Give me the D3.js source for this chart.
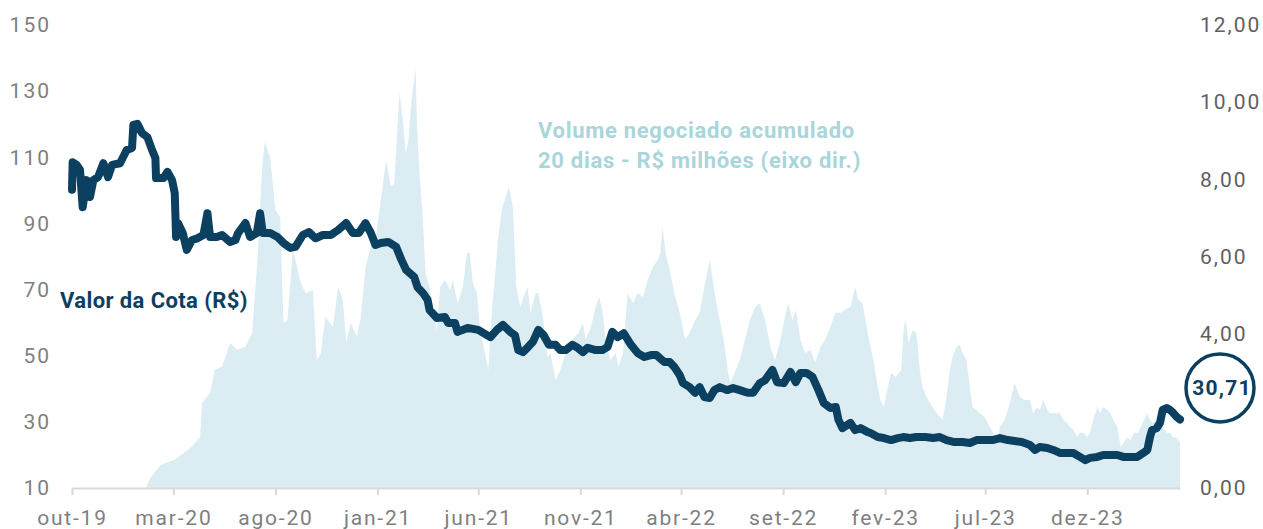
<!DOCTYPE html>
<html>
<head>
<meta charset="utf-8">
<script src="https://cdn.jsdelivr.net/npm/d3@7"></script>
<style>
  body { margin: 0; background: #fff; }
  text { font-family: Roboto, "Open Sans", sans-serif; }
</style>
</head>
<body>
<script>
// valor da cota x volume negociado (20 dias)

var tickDates = ["2019-10-01","2020-03-01","2020-08-01","2021-01-01","2021-06-01","2021-11-01","2022-04-01","2022-09-01","2023-02-01","2023-07-01","2023-12-01"];
var tickLabels = ["out-19","mar-20","ago-20","jan-21","jun-21","nov-21","abr-22","set-22","fev-23","jul-23","dez-23"];
var leftTicks = [10, 30, 50, 70, 90, 110, 130, 150];
var rightTicks = [0, 4, 6, 8, 10, 12];   // 2,00 fica escondido atras do selo

var priceDates = ["2019-10-01","2019-10-02","2019-10-08","2019-10-13","2019-10-17","2019-10-23","2019-10-28","2019-11-02","2019-11-09","2019-11-17",
  "2019-11-24","2019-11-30","2019-12-12","2019-12-22","2019-12-30","2020-01-01","2020-01-07","2020-01-14","2020-01-22","2020-01-29",
  "2020-02-03","2020-02-04","2020-02-15","2020-02-21","2020-02-28","2020-03-03","2020-03-05","2020-03-08","2020-03-15","2020-03-21",
  "2020-03-29","2020-04-06","2020-04-15","2020-04-21","2020-04-25","2020-05-05","2020-05-13","2020-05-25","2020-06-02","2020-06-06",
  "2020-06-17","2020-06-24","2020-07-04","2020-07-09","2020-07-13","2020-07-24","2020-08-04","2020-08-13","2020-08-23","2020-08-31",
  "2020-09-11","2020-09-20","2020-09-30","2020-10-11","2020-10-23","2020-11-03","2020-11-15","2020-11-25","2020-12-04","2020-12-14",
  "2020-12-22","2020-12-29","2021-01-06","2021-01-17","2021-01-29","2021-02-06","2021-02-13","2021-02-25","2021-03-02","2021-03-10",
  "2021-03-17","2021-03-20","2021-03-31","2021-04-12","2021-04-17","2021-04-27","2021-05-01","2021-05-16","2021-06-01","2021-06-19",
  "2021-06-29","2021-07-08","2021-07-19","2021-07-26","2021-07-31","2021-08-07","2021-08-15","2021-08-22","2021-08-30","2021-09-07",
  "2021-09-15","2021-09-25","2021-10-02","2021-10-10","2021-10-20","2021-10-28","2021-11-05","2021-11-12","2021-11-24","2021-12-04",
  "2021-12-12","2021-12-19","2021-12-27","2022-01-05","2022-01-16","2022-01-26","2022-02-05","2022-02-15","2022-02-23","2022-02-28",
  "2022-03-07","2022-03-15","2022-03-22","2022-03-30","2022-04-04","2022-04-14","2022-04-22","2022-04-29","2022-05-06","2022-05-14",
  "2022-05-21","2022-05-29","2022-06-09","2022-06-18","2022-06-28","2022-07-10","2022-07-18","2022-07-28","2022-08-05","2022-08-16",
  "2022-08-23","2022-09-02","2022-09-12","2022-09-20","2022-09-27","2022-10-06","2022-10-15","2022-10-24","2022-11-01","2022-11-11",
  "2022-11-19","2022-11-23","2022-11-29","2022-12-11","2022-12-18","2022-12-26","2023-01-06","2023-01-10","2023-01-21","2023-01-30",
  "2023-02-10","2023-02-20","2023-02-28","2023-03-10","2023-03-20","2023-04-02","2023-04-14","2023-04-24","2023-05-04","2023-05-16",
  "2023-05-28","2023-06-08","2023-06-18","2023-06-30","2023-07-12","2023-07-23","2023-08-04","2023-08-14","2023-08-25","2023-09-06",
  "2023-09-14","2023-09-21","2023-10-02","2023-10-11","2023-10-21","2023-11-01","2023-11-10","2023-11-20","2023-11-28","2023-12-05",
  "2023-12-16","2023-12-25","2024-01-05","2024-01-15","2024-01-24","2024-02-04","2024-02-14","2024-02-23","2024-02-29","2024-03-04",
  "2024-03-07","2024-03-14","2024-03-19","2024-03-23","2024-03-29","2024-04-03","2024-04-07","2024-04-13","2024-04-18"];
var priceValues = [100.2,108.5,107.7,106.2,94.9,103.1,98.0,103.1,104.0,108.2,
  104.0,107.7,108.2,112.2,112.8,119.8,120.1,117.3,116.1,112.2,
  109.8,103.7,103.7,105.6,103.1,99.2,85.9,90.1,87.1,82.0,
  85.0,85.5,86.5,93.1,85.9,85.9,86.5,84.4,85.0,87.1,
  90.1,85.9,87.1,93.1,87.1,87.1,85.9,84.1,82.6,82.9,
  86.5,87.4,85.5,86.5,86.5,88.0,90.1,87.1,87.1,90.1,
  87.1,83.5,84.1,84.4,82.9,78.9,75.9,73.8,70.7,69.0,
  66.9,63.8,61.4,61.7,59.9,59.9,57.2,58.4,57.8,55.6,
  57.8,59.3,57.2,56.2,51.7,51.1,52.7,54.2,57.8,56.2,
  53.3,53.3,51.7,51.7,53.3,52.4,51.1,52.4,51.7,51.7,
  52.7,57.2,55.6,56.8,53.3,50.8,49.6,50.2,50.2,49.3,
  48.1,48.1,46.6,44.2,41.7,40.5,38.8,40.5,37.5,37.2,
  39.6,40.5,39.6,40.2,39.6,38.8,38.8,41.7,42.6,45.7,
  42.0,41.7,45.1,42.0,44.8,44.8,43.6,39.6,35.7,34.2,
  34.5,30.6,28.1,29.7,27.5,28.1,26.9,26.6,25.4,25.1,
  24.5,25.1,25.4,25.1,25.4,25.4,25.1,25.4,24.5,23.9,
  23.9,23.6,24.5,24.5,24.5,25.1,24.5,24.2,23.9,23.0,
  21.5,22.4,22.1,21.5,20.6,20.6,20.6,19.4,18.4,19.1,
  19.4,20.0,20.0,20.0,19.4,19.4,19.4,20.6,21.5,25.4,
  27.5,28.1,29.7,33.6,34.2,33.6,32.9,31.5,30.71];

var volumeDates = ["2019-10-01","2020-01-20","2020-01-26","2020-02-11","2020-03-03","2020-03-26","2020-04-10","2020-04-13","2020-04-25","2020-05-02",
  "2020-05-13","2020-05-25","2020-06-05","2020-06-17","2020-06-27","2020-07-05","2020-07-12","2020-07-16","2020-07-24","2020-08-01",
  "2020-08-08","2020-08-13","2020-08-19","2020-08-27","2020-08-31","2020-09-08","2020-09-15","2020-09-26","2020-10-02","2020-10-08",
  "2020-10-15","2020-10-26","2020-11-03","2020-11-10","2020-11-15","2020-11-22","2020-12-01","2020-12-07","2020-12-14","2020-12-22",
  "2020-12-29","2021-01-06","2021-01-14","2021-01-21","2021-01-26","2021-02-03","2021-02-09","2021-02-12","2021-02-16","2021-02-21",
  "2021-02-27","2021-03-01","2021-03-04","2021-03-10","2021-03-14","2021-03-20","2021-03-25","2021-03-31","2021-04-05","2021-04-12",
  "2021-04-20","2021-04-24","2021-05-01","2021-05-09","2021-05-15","2021-05-19","2021-05-24","2021-05-30","2021-06-04","2021-06-11",
  "2021-06-16","2021-06-22","2021-06-26","2021-07-01","2021-07-07","2021-07-11","2021-07-17","2021-07-23","2021-07-28","2021-08-03",
  "2021-08-08","2021-08-14","2021-08-18","2021-08-26","2021-08-30","2021-09-05","2021-09-13","2021-09-17","2021-09-25","2021-10-02",
  "2021-10-10","2021-10-20","2021-10-29","2021-11-05","2021-11-09","2021-11-17","2021-11-24","2021-11-29","2021-12-04","2021-12-09",
  "2021-12-16","2021-12-24","2021-12-28","2022-01-04","2022-01-11","2022-01-19","2022-01-26","2022-02-03","2022-02-10","2022-02-18",
  "2022-02-25","2022-03-01","2022-03-04","2022-03-09","2022-03-15","2022-03-22","2022-03-30","2022-04-07","2022-04-14","2022-04-22",
  "2022-04-29","2022-05-06","2022-05-14","2022-05-17","2022-05-23","2022-05-29","2022-06-04","2022-06-10","2022-06-14","2022-06-20",
  "2022-06-28","2022-07-06","2022-07-13","2022-07-21","2022-07-28","2022-08-05","2022-08-13","2022-08-20","2022-08-28","2022-09-05",
  "2022-09-09","2022-09-15","2022-09-20","2022-09-27","2022-10-04","2022-10-12","2022-10-19","2022-10-27","2022-11-03","2022-11-11",
  "2022-11-18","2022-11-26","2022-12-03","2022-12-11","2022-12-18","2022-12-23","2022-12-29","2023-01-06","2023-01-10","2023-01-15",
  "2023-01-21","2023-01-25","2023-01-30","2023-02-05","2023-02-10","2023-02-17","2023-02-25","2023-03-01","2023-03-04","2023-03-08",
  "2023-03-14","2023-03-20","2023-03-25","2023-03-29","2023-04-04","2023-04-09","2023-04-16","2023-04-24","2023-04-28","2023-05-04",
  "2023-05-09","2023-05-13","2023-05-19","2023-05-24","2023-05-28","2023-06-03","2023-06-08","2023-06-12","2023-06-18","2023-06-23",
  "2023-06-30","2023-07-08","2023-07-15","2023-07-20","2023-07-23","2023-07-30","2023-08-07","2023-08-14","2023-08-22","2023-08-29",
  "2023-09-06","2023-09-11","2023-09-17","2023-09-21","2023-09-26","2023-10-02","2023-10-06","2023-10-14","2023-10-21","2023-10-26",
  "2023-11-01","2023-11-05","2023-11-10","2023-11-16","2023-11-20","2023-11-25","2023-12-01","2023-12-05","2023-12-10","2023-12-16",
  "2023-12-20","2023-12-25","2023-12-31","2024-01-05","2024-01-09","2024-01-15","2024-01-20","2024-01-24","2024-01-30","2024-02-04",
  "2024-02-09","2024-02-15","2024-02-19","2024-02-24","2024-02-29","2024-03-04","2024-03-08","2024-03-14","2024-03-19","2024-03-23",
  "2024-03-29","2024-04-03","2024-04-07","2024-04-13","2024-04-18"];
var volumeValues = [0,0,0.25,0.60,0.73,1.03,1.32,2.20,2.47,3.06,
  3.14,3.76,3.58,3.66,4.02,5.91,8.32,8.97,8.58,7.20,
  7.03,4.28,4.35,6.17,5.91,5.32,5.05,5.13,3.31,3.50,
  4.43,4.17,5.21,4.87,3.76,4.28,3.92,4.43,5.73,6.25,
  6.43,7.47,8.51,7.81,7.90,10.26,9.36,8.68,8.94,10.05,
  10.88,9.54,8.43,6.95,5.57,5.21,4.62,4.09,5.21,5.39,
  5.13,5.39,4.79,5.21,6.09,6.09,5.32,5.05,4.09,3.50,
  3.06,4.70,5.47,6.50,7.28,7.47,7.81,7.28,5.21,4.70,
  4.95,5.21,4.54,5.05,5.05,4.54,3.39,3.50,2.80,3.06,
  3.50,3.84,4.02,4.28,3.84,4.17,4.70,4.95,4.62,3.84,
  3.31,3.50,3.14,3.50,5.05,4.79,5.05,4.95,5.39,5.73,
  5.91,6.09,6.77,6.09,5.65,5.05,4.54,3.84,4.02,4.35,
  4.54,5.21,5.91,5.57,4.87,4.35,3.84,3.06,2.72,2.98,
  3.31,3.84,4.35,4.70,4.79,4.35,3.66,3.31,3.84,4.54,
  4.79,4.35,4.62,3.84,3.50,3.58,3.25,3.66,3.84,4.17,
  4.54,4.54,4.62,4.70,5.21,4.87,4.79,4.02,3.66,3.25,
  2.61,2.28,2.10,2.61,2.98,2.88,3.06,4.17,4.35,3.76,
  4.09,4.02,3.06,2.61,2.36,2.20,2.02,1.84,1.76,2.36,
  3.06,3.39,3.66,3.71,3.50,3.31,2.61,2.10,2.02,1.94,
  1.84,1.58,1.37,1.32,1.58,1.76,2.20,2.72,2.36,2.28,
  2.28,1.94,2.10,2.02,2.28,2.02,1.94,1.94,1.94,1.76,
  1.69,1.58,1.51,1.32,1.43,1.43,1.32,1.43,1.76,2.10,
  1.94,2.10,2.02,1.94,1.76,1.58,1.06,1.16,1.32,1.24,
  1.43,1.43,1.58,1.76,1.94,1.76,1.69,1.76,1.58,1.58,
  1.43,1.43,1.32,1.30,1.16];

var lastValue = "30,71";

var parse = d3.timeParse("%Y-%m-%d");
var fmtRight = function(d) { return d3.format(".2f")(d).replace(".", ","); };

var price = priceDates.map(function(d, i) { return { date: parse(d), v: priceValues[i] }; });
var volume = volumeDates.map(function(d, i) { return { date: parse(d), v: volumeValues[i] }; });

var width = 1263, height = 529;
var svg = d3.select("body").append("svg").attr("width", width).attr("height", height);

var x = d3.scaleTime()
    .domain([parse("2019-10-01"), parse("2024-04-18")])
    .range([72, 1180]);
var yL = d3.scaleLinear().domain([10, 150]).range([488, 25]);
var yR = d3.scaleLinear().domain([0, 12]).range([488, 25]);

// volume area (eixo dir.)
var area = d3.area()
    .x(function(d) { return x(d.date); })
    .y0(yR(0))
    .y1(function(d) { return yR(d.v); });

svg.append("path")
    .datum(volume)
    .attr("d", area)
    .attr("fill", "#dbedf3");

// x axis
var gx = svg.append("g")
    .attr("transform", "translate(0," + yL(10) + ")")
    .call(d3.axisBottom(x)
      .tickValues(tickDates.map(parse))
      .tickFormat(function(d, i) { return tickLabels[i]; })
      .tickSize(7)
      .tickSizeOuter(0)
      .tickPadding(15));
gx.select(".domain").attr("stroke", "#d9d9d9").attr("stroke-width", 2);
gx.selectAll(".tick line").attr("stroke", "#d9d9d9").attr("stroke-width", 2);
gx.selectAll(".tick text")
    .attr("font-family", "Roboto, sans-serif")
    .attr("font-size", 21)
    .attr("letter-spacing", "1.8px")
    .attr("fill", "#7f7f7f");

// left axis
var gl = svg.append("g")
    .attr("transform", "translate(51,0)")
    .call(d3.axisLeft(yL).tickValues(leftTicks).tickSize(0).tickPadding(0));
gl.select(".domain").remove();
gl.selectAll(".tick text")
    .attr("font-family", "Roboto, sans-serif")
    .attr("font-size", 21)
    .attr("letter-spacing", "2px")
    .attr("fill", "#7f7f7f");

// right axis
var gr = svg.append("g")
    .attr("transform", "translate(1200,0)")
    .call(d3.axisRight(yR).tickValues(rightTicks).tickFormat(fmtRight).tickSize(0).tickPadding(0));
gr.select(".domain").remove();
gr.selectAll(".tick text")
    .attr("font-family", "Roboto, sans-serif")
    .attr("font-size", 21)
    .attr("letter-spacing", "2px")
    .attr("fill", "#5f5f5f");

// price line (eixo esq.)
var line = d3.line()
    .x(function(d) { return x(d.date); })
    .y(function(d) { return yL(d.v); });

svg.append("path")
    .datum(price)
    .attr("d", line)
    .attr("fill", "none")
    .attr("stroke", "#0c4060")
    .attr("stroke-width", 8)
    .attr("stroke-linejoin", "round")
    .attr("stroke-linecap", "round");

// labels
svg.append("text")
    .attr("x", 60).attr("y", 308)
    .attr("font-size", 22)
    .attr("font-weight", "bold")
    .attr("letter-spacing", "0.4px")
    .attr("fill", "#0c4060")
    .text("Valor da Cota (R$)");

svg.append("text")
    .attr("x", 538).attr("y", 138)
    .attr("font-size", 22)
    .attr("font-weight", "bold")
    .attr("letter-spacing", "0.7px")
    .attr("fill", "#a9d5db")
    .text("Volume negociado acumulado");
svg.append("text")
    .attr("x", 538).attr("y", 168)
    .attr("font-size", 22)
    .attr("font-weight", "bold")
    .attr("letter-spacing", "0.7px")
    .attr("fill", "#a9d5db")
    .text("20 dias - R$ milhões (eixo dir.)");

// selo com o ultimo valor
svg.append("circle")
    .attr("cx", 1220).attr("cy", 388).attr("r", 34)
    .attr("fill", "#fff")
    .attr("stroke", "#0c4060")
    .attr("stroke-width", 3.5);
svg.append("text")
    .attr("x", 1222).attr("y", 388)
    .attr("dy", "0.35em")
    .attr("text-anchor", "middle")
    .attr("font-size", 21)
    .attr("font-weight", "bold")
    .attr("letter-spacing", "1.2px")
    .attr("fill", "#0c4060")
    .text(lastValue);
</script>
</body>
</html>
